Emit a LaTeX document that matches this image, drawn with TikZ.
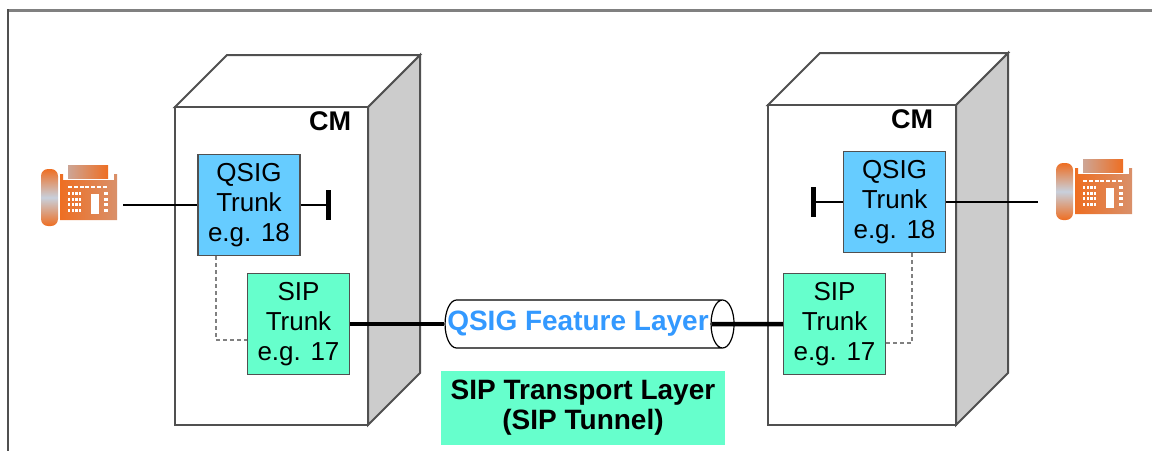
\documentclass[tikz,border=0pt]{standalone}
\usepackage{fontspec}
\setmainfont{Liberation Sans}
\usetikzlibrary{shapes.geometric}
\definecolor{qsigblue}{HTML}{66CCFF}
\definecolor{sipgreen}{HTML}{66FFCC}
\definecolor{edgegray}{HTML}{505050}
\definecolor{sidegray}{HTML}{CCCCCC}
\definecolor{layerblue}{HTML}{3399FF}
\definecolor{faxorange}{HTML}{EE6E22}
\definecolor{faxpale}{HTML}{D9906A}
\definecolor{faxgrey}{HTML}{C8D0DC}
\definecolor{paperpink}{HTML}{CDA595}
\tikzset{
	trunk/.style={draw=edgegray, line width=1.2pt, minimum width=102pt, minimum height=101pt, inner sep=0pt, align=center, font=\fontsize{26}{30}\selectfont},
	cmlabel/.style={font=\bfseries\fontsize{27}{30}\selectfont},
	tunnel/.style={cylinder, draw, line width=1.2pt, minimum width=48pt, minimum height=289pt, aspect=1, inner sep=0pt},
	layertext/.style={text=layerblue, inner sep=0pt, font=\bfseries\fontsize{28}{30}\selectfont},
	layerbox/.style={fill=sipgreen, minimum width=284pt, minimum height=74pt, align=center, font=\bfseries\fontsize{28}{30}\selectfont},
	tieline/.style={dash pattern=on 4pt off 3pt, draw=gray, line width=1.5pt},
	fatline/.style={line width=4.5pt},
	phone/.pic={
		\shade[top color=faxorange, bottom color=faxorange, middle color=faxgrey, rounded corners=7pt] (-38,-27) rectangle (-21,30);
		\shade[left color=faxorange, right color=faxpale] (-19,24) -- (-19,-22) -- (-16,-22) -- (-16,-16) -- (35,-16) -- (35,-22) -- (38,-22) -- (38,24) -- cycle;
		\shade[left color=paperpink, right color=faxorange] (-11,-31) rectangle (29,-18);
		\foreach \i in {0,...,3}
			\foreach \j in {0,...,3}
				\fill[white] (-11+\i*3.6,-4+\j*5.5) rectangle ++(2.4,3);
		\fill[white] (12,-2) rectangle (20,18);
		\foreach \j in {0,...,3}
			\fill[white] (25,-4+\j*5.5) rectangle ++(4,3);
		\foreach \i in {0,...,6}
			\fill[white] (-11+\i*5.8,-10) rectangle ++(4,1.5);
	}
}
\begin{document}
\begin{tikzpicture}[x=1pt, y=-1pt]
	\useasboundingbox (0,0) rectangle (1152,451);
	% frame
	\draw[gray, line width=3pt] (8,10) -- (1152,10);
	\draw[edgegray, line width=2pt] (8,9) -- (8,451);
	% the two CM cabinets
	\foreach \xa/\ya/\xb/\yb in {175/107/368/425, 768/105/956/425} {
		\draw[edgegray, line width=2pt, fill=sidegray] (\xb,\ya) -- (\xb+52,\ya-52) -- (\xb+52,\yb-52) -- (\xb,\yb) -- cycle;
		\draw[edgegray, line width=2pt, fill=white] (\xa,\ya) -- (\xa+52,\ya-52) -- (\xb+52,\ya-52) -- (\xb,\ya) -- cycle;
		\draw[edgegray, line width=2pt, fill=white] (\xa,\ya) rectangle (\xb,\yb);
	}
	\node[cmlabel] (cmL) at (330,121) {CM};
	\node[cmlabel] (cmR) at (912,119) {CM};
	% trunks
	\node[trunk, fill=qsigblue] (qsigL) at (249,205) {QSIG\\Trunk\\e.g. 18};
	\node[trunk, fill=sipgreen] (sipL) at (298.5,324) {SIP\\Trunk\\e.g. 17};
	\node[trunk, fill=qsigblue] (qsigR) at (894.5,202) {QSIG\\Trunk\\e.g. 18};
	\node[trunk, fill=sipgreen] (sipR) at (834.5,324) {SIP\\Trunk\\e.g. 17};
	% tunnel
	\node[tunnel] (layer) at (583.5,324) {\rule{0pt}{23pt}};
	\node[layertext] (layername) at (578,324) {QSIG Feature Layer};
	\node[layerbox] (transport) at (583,408) {SIP Transport Layer\\(SIP Tunnel)};
	% phones
	\pic at (79,196) {phone};
	\pic at (1094,190) {phone};
	\coordinate (telL) at (123,205);
	\coordinate (telR) at (1038,202);
	\coordinate (endL) at (328,205);
	\coordinate (endR) at (813,202);
	% connections
	\draw[line width=1.2pt] (telL) -- (qsigL.west);
	\draw[line width=1.2pt] (qsigR.east) -- (telR);
	\draw[line width=1.2pt] (qsigL.east) -- (endL);
	\draw[line width=5pt] ([yshift=15pt]endL) -- ([yshift=-15pt]endL);
	\draw[line width=1.2pt] (qsigR.west) -- (endR);
	\draw[line width=5pt] ([yshift=15pt]endR) -- ([yshift=-15pt]endR);
	\draw[tieline] ([xshift=-33pt]qsigL.south) |- ([yshift=-16pt]sipL.west);
	\draw[tieline] ([xshift=17.5pt]qsigR.south) |- ([yshift=-19pt]sipR.east);
	\draw[fatline] (sipL.east) -- (layer.west);
	\draw[fatline] ([xshift=-23pt]layer.east) -- (sipR.west);
\end{tikzpicture}
\end{document}
